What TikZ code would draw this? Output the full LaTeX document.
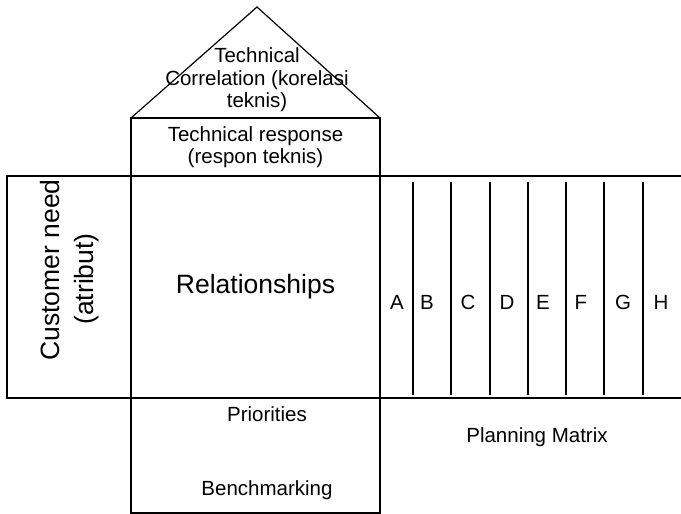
\documentclass[tikz,border=0pt]{standalone}
\usepackage{fontspec}
\setmainfont{Liberation Sans}
\begin{document}
\begin{tikzpicture}[x=1pt,y=-1pt,
  box/.style={draw, line width=1.2pt, inner sep=0pt, outer sep=0pt, anchor=north west},
  rule/.style={line width=1.2pt},
  lbl/.style={font=\fontsize{20.5}{22.5}\selectfont, align=center, inner sep=0pt},
  big/.style={font=\fontsize{26.5}{30}\selectfont, inner sep=0pt},
  colline/.style={line width=1.5pt}]
\useasboundingbox (0,0) rectangle (681,514);

% house body
\node[box, minimum width=249pt, minimum height=58pt]  (tr)  at (131,118) {};
\node[box, minimum width=249pt, minimum height=222pt] (rel) at (131,176) {};
\node[box, minimum width=249pt, minimum height=115pt] (bm)  at (131,398) {};
\node[box, minimum width=124pt, minimum height=222pt] (cn)  at (7,176) {};

% roof
\coordinate (apex) at (257,7);
\draw[rule, line join=miter] (tr.north west) -- (apex) -- (tr.north east);
\draw[line width=2pt] (tr.north west) -- (tr.north east);

% planning matrix
\coordinate (mtr) at (681,176);
\coordinate (mbr) at (681,398);
\draw[rule] (rel.north east) -- (mtr);
\draw[rule] (rel.south east) -- (mbr);
\foreach \x in {413,451,490,528,566,604,643}
  \draw[colline] (\x,182) -- (\x,395);
\foreach \x/\l in {397/A,427/B,468/C,507/D,543/E,581/F,623/G,661/H}
  \node[lbl] (col\l) at (\x,302) {\l};

% labels
\node[lbl] (tc) at (257,80) {Technical\\Correlation (korelasi\\teknis)};
\node[lbl, font=\fontsize{20.5}{21.5}\selectfont] (trt) at (tr.center) {Technical response\\(respon teknis)};
\node[big] (relt) at (rel.center) {Relationships};
\node[big, rotate=90] (cnt) at (50,270) {Customer need};
\node[big, rotate=90] (cna) at (87,279) {(atribut)};
\node[lbl] (pri) at (267,414) {Priorities};
\node[lbl] (ben) at (267,490) {Benchmarking};
\node[lbl] (pm) at (537,437) {Planning Matrix};
\end{tikzpicture}
\end{document}
